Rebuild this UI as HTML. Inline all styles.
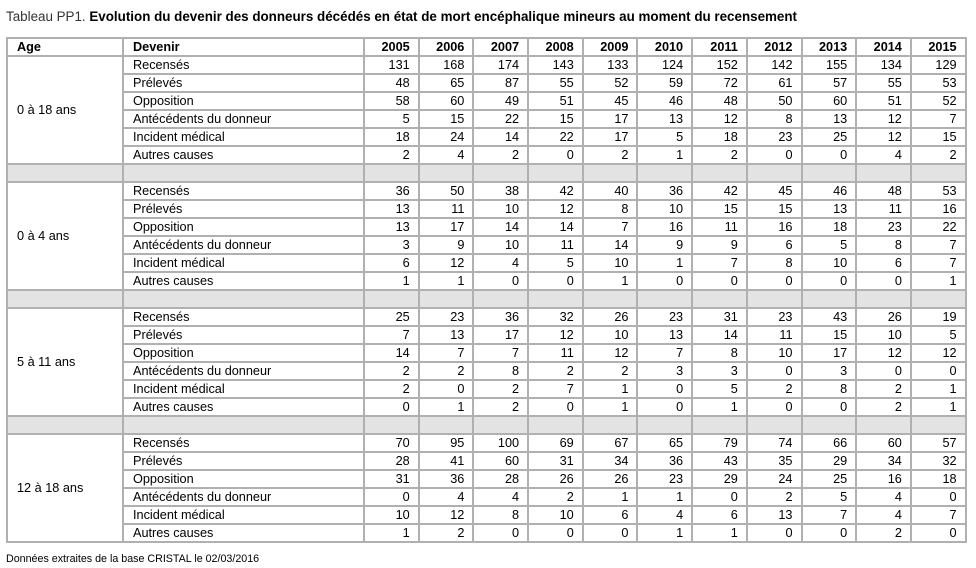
<!DOCTYPE html>
<html><head><meta charset="utf-8"><style>
body{margin:0;background:#fff;width:976px;height:568px;position:relative;font-family:"Liberation Sans",Arial,sans-serif;color:#000}
.t{position:absolute;left:6px;top:9px;font-size:13.4px;font-weight:bold;white-space:nowrap}
.t span{font-weight:normal;color:#333}
table{position:absolute;left:6px;top:37px;border-collapse:collapse;table-layout:fixed;width:959px;font-size:12.7px}
td,th{border:2px solid #b0b0b0;height:16px;padding:0 9px 0 9px;line-height:16px;white-space:nowrap;overflow:hidden}
th{text-align:left;font-weight:bold}
th.y,td.n{text-align:right;padding:0 8px 0 2px}
tr.g td{background:#e3e3e3}
.f{position:absolute;left:6px;top:553px;font-size:10.7px}
</style></head><body>
<div class="t"><span>Tableau PP1.</span> Evolution du devenir des donneurs décédés en état de mort encéphalique mineurs au moment du recensement</div>
<table>
<colgroup><col style="width:116px"><col style="width:241px"><col span="11" style="width:54.7px"></colgroup>
<tr><th>Age</th><th>Devenir</th><th class="y">2005</th><th class="y">2006</th><th class="y">2007</th><th class="y">2008</th><th class="y">2009</th><th class="y">2010</th><th class="y">2011</th><th class="y">2012</th><th class="y">2013</th><th class="y">2014</th><th class="y">2015</th></tr>
<tr><td rowspan="6">0 à 18 ans</td><td>Recensés</td><td class="n">131</td><td class="n">168</td><td class="n">174</td><td class="n">143</td><td class="n">133</td><td class="n">124</td><td class="n">152</td><td class="n">142</td><td class="n">155</td><td class="n">134</td><td class="n">129</td></tr>
<tr><td>Prélevés</td><td class="n">48</td><td class="n">65</td><td class="n">87</td><td class="n">55</td><td class="n">52</td><td class="n">59</td><td class="n">72</td><td class="n">61</td><td class="n">57</td><td class="n">55</td><td class="n">53</td></tr>
<tr><td>Opposition</td><td class="n">58</td><td class="n">60</td><td class="n">49</td><td class="n">51</td><td class="n">45</td><td class="n">46</td><td class="n">48</td><td class="n">50</td><td class="n">60</td><td class="n">51</td><td class="n">52</td></tr>
<tr><td>Antécédents du donneur</td><td class="n">5</td><td class="n">15</td><td class="n">22</td><td class="n">15</td><td class="n">17</td><td class="n">13</td><td class="n">12</td><td class="n">8</td><td class="n">13</td><td class="n">12</td><td class="n">7</td></tr>
<tr><td>Incident médical</td><td class="n">18</td><td class="n">24</td><td class="n">14</td><td class="n">22</td><td class="n">17</td><td class="n">5</td><td class="n">18</td><td class="n">23</td><td class="n">25</td><td class="n">12</td><td class="n">15</td></tr>
<tr><td>Autres causes</td><td class="n">2</td><td class="n">4</td><td class="n">2</td><td class="n">0</td><td class="n">2</td><td class="n">1</td><td class="n">2</td><td class="n">0</td><td class="n">0</td><td class="n">4</td><td class="n">2</td></tr>
<tr class="g"><td></td><td></td><td></td><td></td><td></td><td></td><td></td><td></td><td></td><td></td><td></td><td></td><td></td></tr>
<tr><td rowspan="6">0 à 4 ans</td><td>Recensés</td><td class="n">36</td><td class="n">50</td><td class="n">38</td><td class="n">42</td><td class="n">40</td><td class="n">36</td><td class="n">42</td><td class="n">45</td><td class="n">46</td><td class="n">48</td><td class="n">53</td></tr>
<tr><td>Prélevés</td><td class="n">13</td><td class="n">11</td><td class="n">10</td><td class="n">12</td><td class="n">8</td><td class="n">10</td><td class="n">15</td><td class="n">15</td><td class="n">13</td><td class="n">11</td><td class="n">16</td></tr>
<tr><td>Opposition</td><td class="n">13</td><td class="n">17</td><td class="n">14</td><td class="n">14</td><td class="n">7</td><td class="n">16</td><td class="n">11</td><td class="n">16</td><td class="n">18</td><td class="n">23</td><td class="n">22</td></tr>
<tr><td>Antécédents du donneur</td><td class="n">3</td><td class="n">9</td><td class="n">10</td><td class="n">11</td><td class="n">14</td><td class="n">9</td><td class="n">9</td><td class="n">6</td><td class="n">5</td><td class="n">8</td><td class="n">7</td></tr>
<tr><td>Incident médical</td><td class="n">6</td><td class="n">12</td><td class="n">4</td><td class="n">5</td><td class="n">10</td><td class="n">1</td><td class="n">7</td><td class="n">8</td><td class="n">10</td><td class="n">6</td><td class="n">7</td></tr>
<tr><td>Autres causes</td><td class="n">1</td><td class="n">1</td><td class="n">0</td><td class="n">0</td><td class="n">1</td><td class="n">0</td><td class="n">0</td><td class="n">0</td><td class="n">0</td><td class="n">0</td><td class="n">1</td></tr>
<tr class="g"><td></td><td></td><td></td><td></td><td></td><td></td><td></td><td></td><td></td><td></td><td></td><td></td><td></td></tr>
<tr><td rowspan="6">5 à 11 ans</td><td>Recensés</td><td class="n">25</td><td class="n">23</td><td class="n">36</td><td class="n">32</td><td class="n">26</td><td class="n">23</td><td class="n">31</td><td class="n">23</td><td class="n">43</td><td class="n">26</td><td class="n">19</td></tr>
<tr><td>Prélevés</td><td class="n">7</td><td class="n">13</td><td class="n">17</td><td class="n">12</td><td class="n">10</td><td class="n">13</td><td class="n">14</td><td class="n">11</td><td class="n">15</td><td class="n">10</td><td class="n">5</td></tr>
<tr><td>Opposition</td><td class="n">14</td><td class="n">7</td><td class="n">7</td><td class="n">11</td><td class="n">12</td><td class="n">7</td><td class="n">8</td><td class="n">10</td><td class="n">17</td><td class="n">12</td><td class="n">12</td></tr>
<tr><td>Antécédents du donneur</td><td class="n">2</td><td class="n">2</td><td class="n">8</td><td class="n">2</td><td class="n">2</td><td class="n">3</td><td class="n">3</td><td class="n">0</td><td class="n">3</td><td class="n">0</td><td class="n">0</td></tr>
<tr><td>Incident médical</td><td class="n">2</td><td class="n">0</td><td class="n">2</td><td class="n">7</td><td class="n">1</td><td class="n">0</td><td class="n">5</td><td class="n">2</td><td class="n">8</td><td class="n">2</td><td class="n">1</td></tr>
<tr><td>Autres causes</td><td class="n">0</td><td class="n">1</td><td class="n">2</td><td class="n">0</td><td class="n">1</td><td class="n">0</td><td class="n">1</td><td class="n">0</td><td class="n">0</td><td class="n">2</td><td class="n">1</td></tr>
<tr class="g"><td></td><td></td><td></td><td></td><td></td><td></td><td></td><td></td><td></td><td></td><td></td><td></td><td></td></tr>
<tr><td rowspan="6">12 à 18 ans</td><td>Recensés</td><td class="n">70</td><td class="n">95</td><td class="n">100</td><td class="n">69</td><td class="n">67</td><td class="n">65</td><td class="n">79</td><td class="n">74</td><td class="n">66</td><td class="n">60</td><td class="n">57</td></tr>
<tr><td>Prélevés</td><td class="n">28</td><td class="n">41</td><td class="n">60</td><td class="n">31</td><td class="n">34</td><td class="n">36</td><td class="n">43</td><td class="n">35</td><td class="n">29</td><td class="n">34</td><td class="n">32</td></tr>
<tr><td>Opposition</td><td class="n">31</td><td class="n">36</td><td class="n">28</td><td class="n">26</td><td class="n">26</td><td class="n">23</td><td class="n">29</td><td class="n">24</td><td class="n">25</td><td class="n">16</td><td class="n">18</td></tr>
<tr><td>Antécédents du donneur</td><td class="n">0</td><td class="n">4</td><td class="n">4</td><td class="n">2</td><td class="n">1</td><td class="n">1</td><td class="n">0</td><td class="n">2</td><td class="n">5</td><td class="n">4</td><td class="n">0</td></tr>
<tr><td>Incident médical</td><td class="n">10</td><td class="n">12</td><td class="n">8</td><td class="n">10</td><td class="n">6</td><td class="n">4</td><td class="n">6</td><td class="n">13</td><td class="n">7</td><td class="n">4</td><td class="n">7</td></tr>
<tr><td>Autres causes</td><td class="n">1</td><td class="n">2</td><td class="n">0</td><td class="n">0</td><td class="n">0</td><td class="n">1</td><td class="n">1</td><td class="n">0</td><td class="n">0</td><td class="n">2</td><td class="n">0</td></tr>
</table>
<div class="f">Données extraites de la base CRISTAL le 02/03/2016</div>
</body></html>
